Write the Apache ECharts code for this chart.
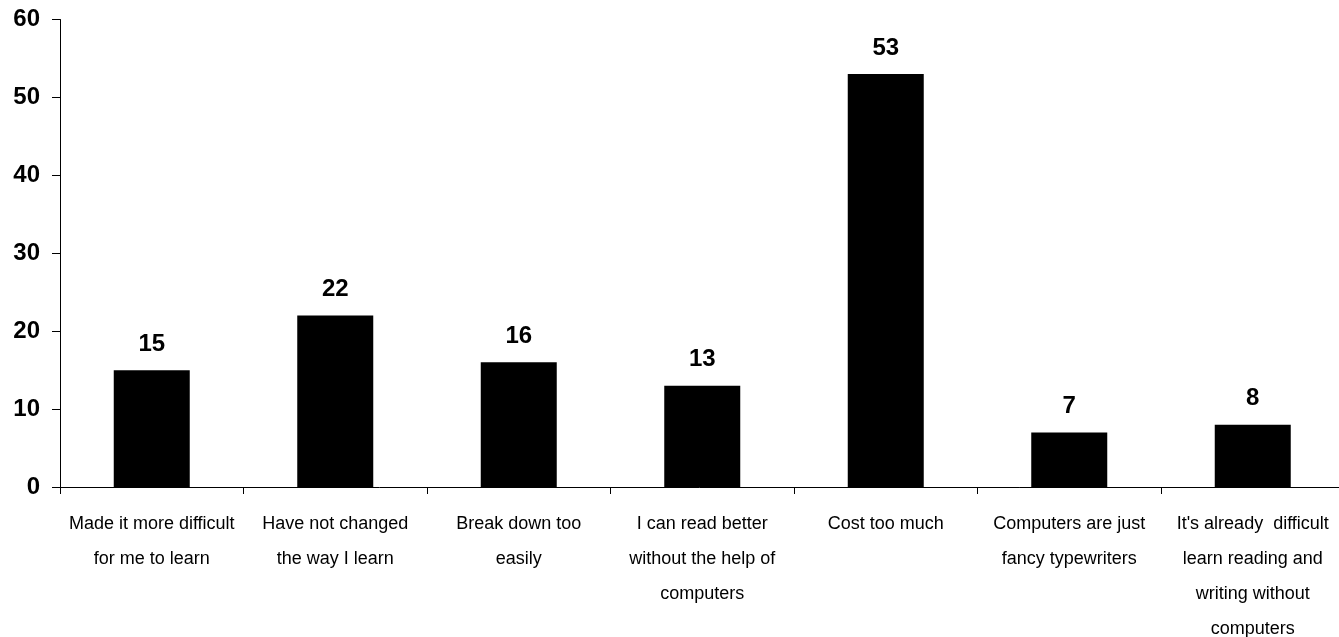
<!DOCTYPE html>
<html>
<head>
<meta charset="utf-8">
<script src="https://cdn.jsdelivr.net/npm/echarts@6/dist/echarts.min.js"></script>
<style>
html,body{margin:0;padding:0;background:#fff;}
#chart{width:1339px;height:637px;}
</style>
</head>
<body>
<div id="chart"></div>
<script>
const categories = [
  "Made it more difficult\nfor me to learn",
  "Have not changed\nthe way I learn",
  "Break down too\neasily",
  "I can read better\nwithout the help of\ncomputers",
  "Cost too much",
  "Computers are just\nfancy typewriters",
  "It's already  difficult\nlearn reading and\nwriting without\ncomputers"
];
const values = [15, 22, 16, 13, 53, 7, 8];
const yTicks = [0, 10, 20, 30, 40, 50, 60];

const chart = echarts.init(document.getElementById('chart'), null, {renderer: 'canvas'});
chart.setOption({
  animation: false,
  backgroundColor: '#fff',
  grid: {left: 60, top: 19.5, width: 1284.5, bottom: 150, containLabel: false, outerBoundsMode: 'none'},
  xAxis: {
    type: 'category',
    data: categories,
    boundaryGap: true,
    axisLine: {show: true, lineStyle: {color: '#000', width: 1}},
    axisTick: {show: true, length: 7, lineStyle: {color: '#000'}},
    axisLabel: {
      interval: 0,
      margin: 20,
      fontFamily: 'Liberation Sans, Arial, sans-serif',
      fontSize: 18,
      lineHeight: 35,
      color: '#000',
      align: 'center'
    },
    splitLine: {show: false}
  },
  yAxis: {
    type: 'value',
    min: yTicks[0],
    max: yTicks[yTicks.length - 1],
    interval: 10,
    axisLine: {show: true, lineStyle: {color: '#000', width: 1}},
    axisTick: {show: true, length: 8, lineStyle: {color: '#000'}},
    axisLabel: {
      margin: 20,
      fontFamily: 'Liberation Sans, Arial, sans-serif',
      fontSize: 24,
      fontWeight: 'bold',
      color: '#000'
    },
    splitLine: {show: false}
  },
  series: [{
    type: 'bar',
    data: values,
    barWidth: 76,
    itemStyle: {color: '#000'},
    label: {
      show: true,
      position: 'top',
      distance: 14,
      fontFamily: 'Liberation Sans, Arial, sans-serif',
      fontSize: 24,
      fontWeight: 'bold',
      color: '#000'
    }
  }]
});
</script>
</body>
</html>
